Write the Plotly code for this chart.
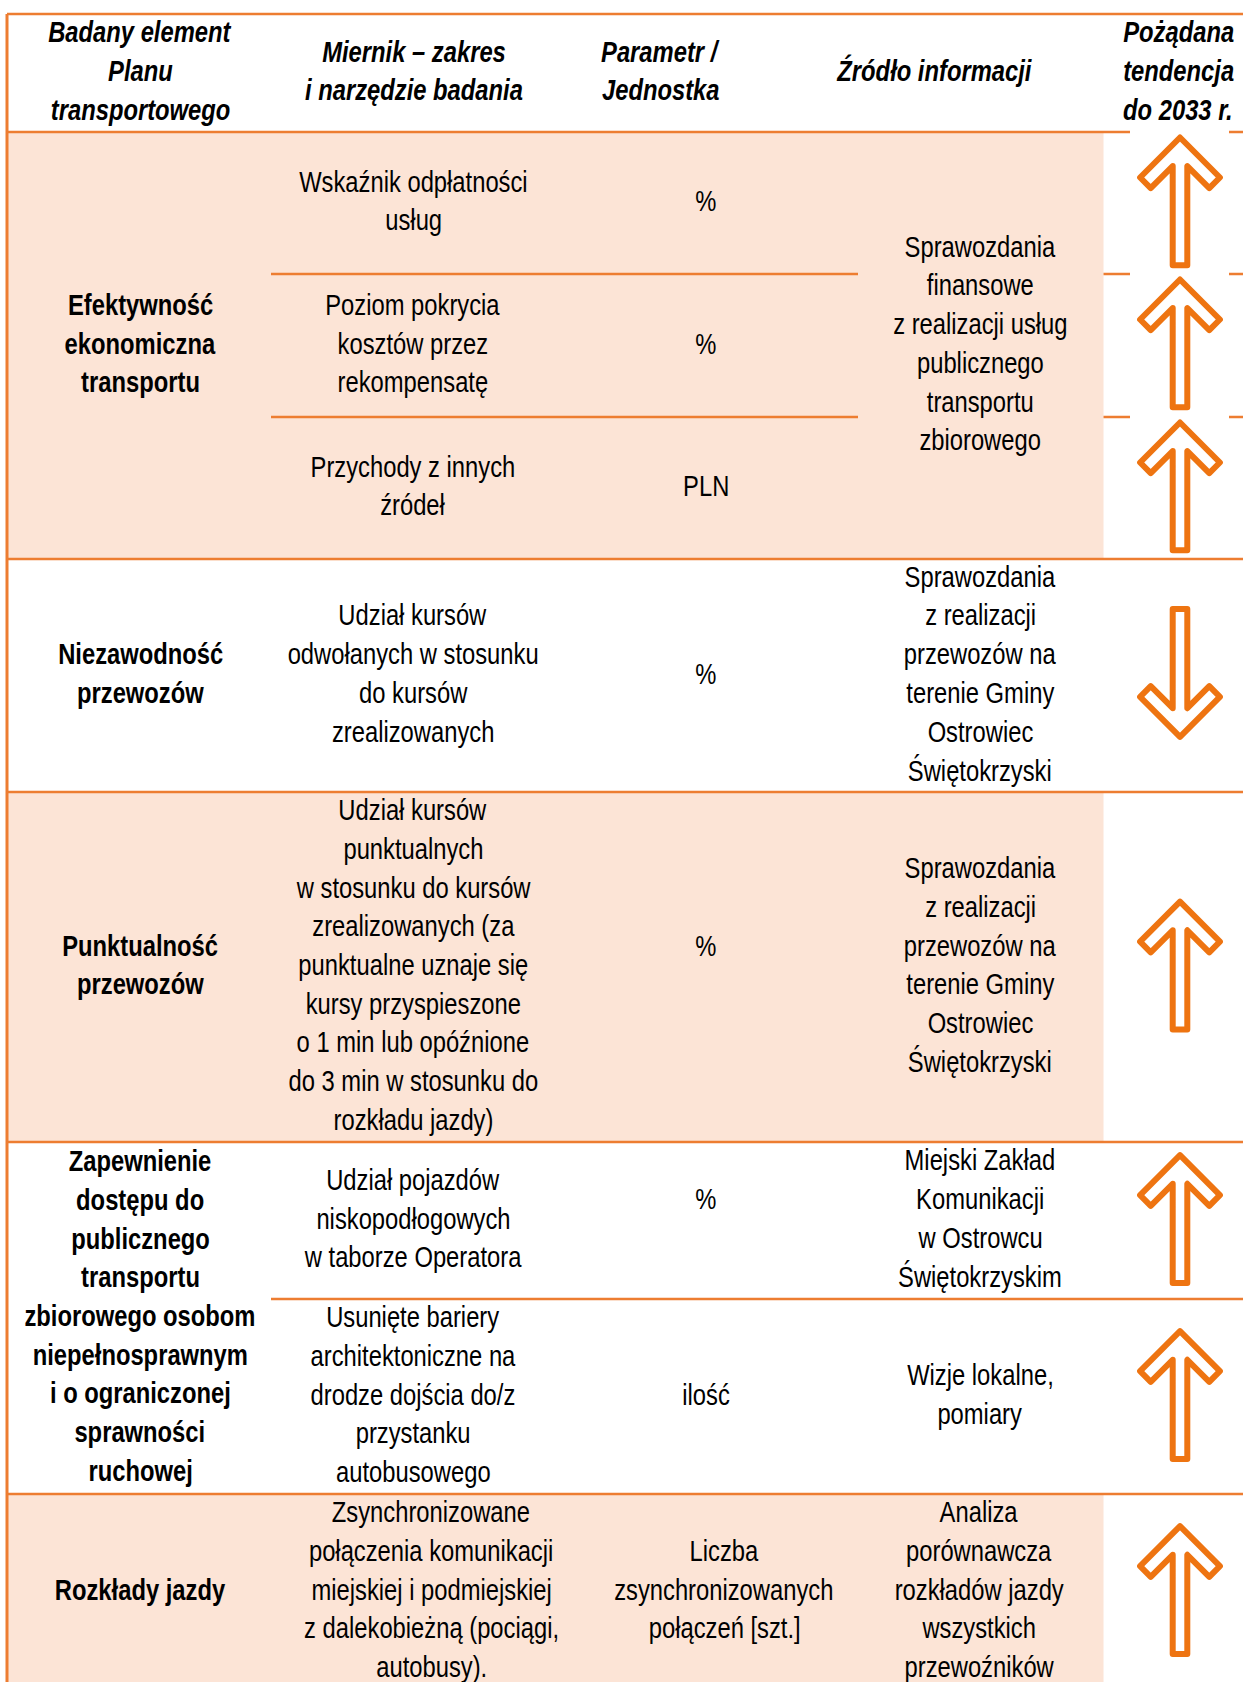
import plotly.graph_objects as go

# ---------------- data ----------------
header_labels = [
    "Badany element\nPlanu\ntransportowego",
    "Miernik – zakres\ni narzędzie badania",
    "Parametr /\nJednostka",
    "Źródło informacji",
    "Pożądana\ntendencja\ndo 2033 r.",
]

elements = [
    "Efektywność\nekonomiczna\ntransportu",
    "Niezawodność\nprzewozów",
    "Punktualność\nprzewozów",
    "Zapewnienie\ndostępu do\npublicznego\ntransportu\nzbiorowego osobom\nniepełnosprawnym\ni o ograniczonej\nsprawności\nruchowej",
    "Rozkłady jazdy",
]

metrics = [
    "Wskaźnik odpłatności\nusług",
    "Poziom pokrycia\nkosztów przez\nrekompensatę",
    "Przychody z innych\nźródeł",
    "Udział kursów\nodwołanych w stosunku\ndo kursów\nzrealizowanych",
    "Udział kursów\npunktualnych\nw stosunku do kursów\nzrealizowanych (za\npunktualne uznaje się\nkursy przyspieszone\no 1 min lub opóźnione\ndo 3 min w stosunku do\nrozkładu jazdy)",
    "Udział pojazdów\nniskopodłogowych\nw taborze Operatora",
    "Usunięte bariery\narchitektoniczne na\ndrodze dojścia do/z\nprzystanku\nautobusowego",
    "Zsynchronizowane\npołączenia komunikacji\nmiejskiej i podmiejskiej\nz dalekobieżną (pociągi,\nautobusy).",
]

metric_group = [0, 0, 0, 1, 2, 3, 3, 4]

units = ["%", "%", "PLN", "%", "%\n", "%\n", "ilość",
         "Liczba\nzsynchronizowanych\npołączeń [szt.]"]

sources = [
    "Sprawozdania\nfinansowe\nz realizacji usług\npublicznego\ntransportu\nzbiorowego",
    "Sprawozdania\nz realizacji\nprzewozów na\nterenie Gminy\nOstrowiec\nŚwiętokrzyski",
    "Sprawozdania\nz realizacji\nprzewozów na\nterenie Gminy\nOstrowiec\nŚwiętokrzyski",
    "Miejski Zakład\nKomunikacji\nw Ostrowcu\nŚwiętokrzyskim",
    "Wizje lokalne,\npomiary",
    "Analiza\nporównawcza\nrozkładów jazdy\nwszystkich\nprzewoźników",
]
source_rows = [[0, 1, 2], [3], [4], [5], [6], [7]]

trends = ["up", "up", "up", "down", "up", "up", "up", "up"]

# ---------------- layout / style ----------------
W, H = 1243, 1682
FONT = "Liberation Sans, Arial, sans-serif"
NARROW = 0.82          # emulate a narrow face (Arial Narrow = 82% of Arial)
FS = 29
LH = 38.7
TXT_DY = -2
LINE_C = "#ED7D31"
PINK = "#FCE4D6"
ARROW_C = "#EE7411"
LW = 2.6

LEFT = 7
COL2_L, COL3_R, COL4_R, RIGHT = 271, 858, 1103.5, W
TOP, HEAD_B = 14, 132
group_edges = [132, 559, 792, 1142, 1494, 1689]
sub_edges = [132, 274, 417, 559, 792, 1142, 1299, 1494, 1689]

COL_X = [140, 413, 706, 980, 1180]
HEAD_X = [140, 414, 660, 934, 1178]
ROW_COL_X = {4: [140, 431, 724, 979, 1180]}
shaded_groups = [0, 2, 4]
top_aligned_groups = [0]

shapes = []
annotations = []


def add_text(text, x, yc, bold=False, italic=False):
    lines = text.split("\n")
    n = len(lines)
    for i, ln in enumerate(lines):
        if not ln:
            continue
        t = ln
        if italic:
            t = f"<i>{t}</i>"
        if bold:
            t = f"<b>{t}</b>"
        annotations.append(dict(
            x=x, y=yc + (i - (n - 1) / 2) * LH, xref="x", yref="y",
            text=t, showarrow=False, xanchor="center", yanchor="middle",
            font=dict(family=FONT, size=FS, color="black")))


def hline(y, x0, x1):
    shapes.append(dict(type="line", xref="x", yref="y", x0=x0, x1=x1, y0=y, y1=y,
                       line=dict(color=LINE_C, width=LW)))


def arrow(cx, top, direction):
    rel = [(0, 4.2), (39.9, 44.2), (29.3, 54.8), (7.3, 32.8), (7.3, 132),
           (-7.3, 132), (-7.3, 32.8), (-29.3, 54.8), (-39.9, 44.2)]
    pts = []
    for dx, dy in rel:
        yy = dy if direction == "up" else 135 - dy
        pts.append((cx + dx, top + yy))
    path = "M " + " L ".join(f"{px:.1f},{py:.1f}" for px, py in pts) + " Z"
    # white image background covering the borders
    shapes.append(dict(type="rect", xref="x", yref="y", x0=cx - 50, x1=cx + 49,
                       y0=top - 4, y1=top + 137, fillcolor="white",
                       line=dict(width=0)))
    shapes.append(dict(type="path", xref="x", yref="y", path=path,
                       fillcolor="white", line=dict(color=ARROW_C, width=6)))


# backgrounds
for g in shaded_groups:
    shapes.append(dict(type="rect", xref="x", yref="y", x0=LEFT, x1=COL4_R,
                       y0=group_edges[g], y1=group_edges[g + 1],
                       fillcolor=PINK, line=dict(width=0), layer="below"))

# horizontal borders
hline(TOP, LEFT, RIGHT)
for y in group_edges[:-1]:
    hline(y, LEFT, RIGHT)
for i in range(1, len(sub_edges) - 1):
    y = sub_edges[i]
    if y in group_edges:
        continue
    spans_src = any(i - 1 in r and i in r for r in source_rows)
    if spans_src:
        hline(y, COL2_L, COL3_R)
        hline(y, COL4_R, RIGHT)
    else:
        hline(y, COL2_L, RIGHT)
# left border
shapes.append(dict(type="line", xref="x", yref="y", x0=LEFT, x1=LEFT, y0=TOP, y1=H + 10,
                   line=dict(color=LINE_C, width=3)))

# header
hc = (TOP + HEAD_B) / 2 + TXT_DY
for j, lab in enumerate(header_labels):
    add_text(lab, HEAD_X[j], hc, bold=True, italic=True)

# element column
for g, el in enumerate(elements):
    cx = ROW_COL_X.get(g, COL_X)
    add_text(el, cx[0], (group_edges[g] + group_edges[g + 1]) / 2 + TXT_DY, bold=True)

# metric, unit, arrow per sub-row
for i, (m, u, tr) in enumerate(zip(metrics, units, trends)):
    g = metric_group[i]
    cx = ROW_COL_X.get(g, COL_X)
    y0, y1 = sub_edges[i], sub_edges[i + 1]
    yc = (y0 + y1) / 2 + TXT_DY
    add_text(m, cx[1], yc)
    add_text(u, cx[2], yc)
    if g in top_aligned_groups:
        top = y0 + 1.3
    else:
        top = yc - 67.5
    arrow(cx[4], top, tr)

# sources
for s, rows in zip(sources, source_rows):
    g = metric_group[rows[0]]
    cx = ROW_COL_X.get(g, COL_X)
    yc = (sub_edges[rows[0]] + sub_edges[rows[-1] + 1]) / 2 + TXT_DY
    add_text(s, cx[3], yc)

fig = go.Figure()
fig.update_layout(
    width=W, height=H, margin=dict(l=0, r=0, t=0, b=0),
    paper_bgcolor="white", plot_bgcolor="white",
    xaxis=dict(range=[0, W], visible=False, fixedrange=True),
    yaxis=dict(range=[H, 0], visible=False, fixedrange=True),
    shapes=shapes, annotations=annotations, showlegend=False,
)

css = ("body{margin:0;overflow:hidden}"
       ".annotation-text{transform-box:fill-box;transform-origin:center;"
       f"transform:scaleX({NARROW});}}"
       ".shapelayer path{stroke-linejoin:round}")
post = ("var st=document.createElement('style');"
        f"st.textContent='{css}';"
        "document.head.appendChild(st);")
fig.write_html("out.html", config={"displayModeBar": False}, post_script=post)
